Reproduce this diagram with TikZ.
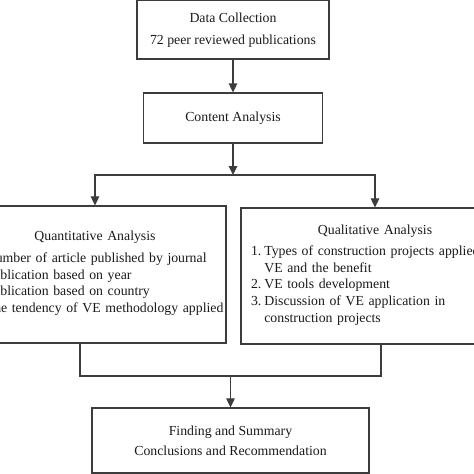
\documentclass[tikz,border=0pt]{standalone}
\usepackage{fontspec}
\setmainfont{Liberation Serif}
\usetikzlibrary{arrows.meta}
\definecolor{boxline}{HTML}{3C3C3C}
\definecolor{inktext}{HTML}{1A1A1A}

\begin{document}
\begin{tikzpicture}[x=1pt,y=-1pt,
    stage/.style={draw=boxline, line width=1.2pt, inner sep=0pt, align=center,
        text=inktext, font=\fontsize{13.8}{16.7}\selectfont},
    panel/.style={stage, align=left},
    flow/.style={draw=boxline, line width=1.1pt, -{Triangle[width=8.5pt,length=9pt]}},
    link/.style={draw=boxline, line width=1.1pt},
    ]
    \useasboundingbox (0,0) rectangle (474,474);
    \clip (0,0) rectangle (474,474);

    % Boxes
    \node[stage, minimum width=192pt, minimum height=58.5pt] (collect) at (233,29.75)
        {Data Collection\\[5.3pt]72 peer reviewed publications};
    \node[stage, minimum width=179pt, minimum height=50pt] (content) at (233,118)
        {Content Analysis};
    \node[panel, text width=245pt, inner xsep=8.5pt, minimum height=137pt] (quant) at (95,274.5)
        {\makebox[\linewidth]{Quantitative Analysis}\\[5pt]
         \begin{tabular}[t]{@{}l@{\hspace{3pt}}l@{}}
         1. & Number of article published by journal\\
         2. & Publication based on year\\
         3. & Publication based on country\\
         4. & The tendency of VE methodology applied
         \end{tabular}};
    \node[panel, text width=248pt, inner xsep=10pt, minimum height=136pt] (qual) at (375,276)
        {\makebox[\linewidth]{Qualitative Analysis}\\[4.5pt]
         \begin{tabular}[t]{@{}l@{\hspace{3pt}}l@{}}
         1. & Types of construction projects applied\\
            & VE and the benefit\\
         2. & VE tools development\\
         3. & Discussion of VE application in\\
            & construction projects
         \end{tabular}};
    \node[stage, minimum width=277pt, minimum height=65pt] (finding) at (230.5,440.5)
        {Finding and Summary\\[3.3pt]Conclusions and Recommendation};

    % Split and merge points
    \coordinate (split) at (233,175);
    \coordinate (merge) at (230.5,376);

    % Connectors
    \draw[flow] (collect.south) -- (content.north);
    \draw[flow] (content.south) -- (split);
    \draw[flow] (split) -| (quant.north);
    \draw[flow] (split) -| (qual.north);
    \draw[link] ([xshift=-15pt]quant.south) |- (merge) -| ([xshift=6pt]qual.south);
    \draw[flow] (merge) -- (finding.north);

\end{tikzpicture}
\end{document}
